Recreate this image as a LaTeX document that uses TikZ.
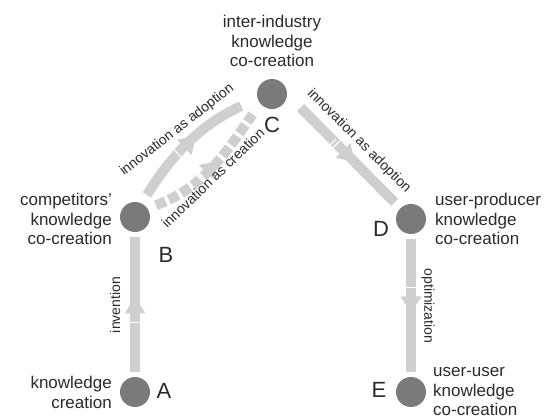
\documentclass[tikz,border=0pt]{standalone}
\usepackage{fontspec}
\setmainfont{Liberation Sans}
\usetikzlibrary{decorations.markings}
\definecolor{band}{HTML}{CFCFCF}
\definecolor{dot}{HTML}{7A7A7A}
\definecolor{txt}{HTML}{2A2A2A}
\tikzset{
  dotnode/.style={circle, fill=dot, minimum size=30pt, inner sep=0pt},
  flow/.style={draw=band, line width=10pt, postaction={decorate},
    decoration={markings, mark=at position #1 with {
      \fill[band] (-9pt,10.5pt) -- (7pt,0pt) -- (-9pt,-10.5pt) -- cycle;
      \draw[white, solid, line width=1.1pt] (-18pt,5pt) -- (-18pt,-5pt) (-22pt,5pt) -- (-22pt,-5pt);}}},
  flow/.default=0.5,
  nodetext/.style={font=\fontsize{17}{19.5}\selectfont, text=txt, inner sep=0pt},
  edgetext/.style={font=\fontsize{14}{16}\selectfont, text=txt, inner sep=0pt},
  letter/.style={font=\fontsize{22}{24}\selectfont, text=txt, inner sep=0pt},
}
\begin{document}
\begin{tikzpicture}[x=1pt,y=1pt]
\useasboundingbox (0,0) rectangle (548,419);
% dots
\node[dotnode] (C) at (272,325) {};
\node[dotnode] (B) at (135,202) {};
\node[dotnode] (A) at (135,27) {};
\node[dotnode] (D) at (411,200) {};
\node[dotnode] (E) at (411,27) {};
% flows
\draw[flow, shorten <=5pt, shorten >=5pt] (A) -- (B);
\draw[flow, shorten <=5pt, shorten >=5pt] (D) -- (E);
\draw[flow=0.55, shorten <=19pt, shorten >=8pt] (C.east) -- (D);
\draw[flow, shorten <=10pt, shorten >=18pt] (B.64) to[out=58,in=205] (C.197);
\draw[flow, dash pattern=on 10.5pt off 3.5pt, shorten <=9pt, shorten >=13pt] (B.35) to[out=20,in=235] (C.219);
% letters
\node[letter] (Cx) at (272,294) {C};
\node[letter] (Bx) at (166,164) {B};
\node[letter] (Ax) at (164,28) {A};
\node[letter] (Dx) at (381,190) {D};
\node[letter] (Ex) at (379,29) {E};
% node texts
\node[nodetext, align=center] (Ct) at (272,378) {inter-industry\\knowledge\\co-creation};
\node[nodetext, align=right, anchor=east] (Bt) at (112,200) {competitors'\\knowledge\\co-creation};
\node[nodetext, align=right, anchor=east] (At) at (112,26.5) {knowledge\\creation};
\node[nodetext, align=left, anchor=west] (Dt) at (435,200) {user-producer\\knowledge\\co-creation};
\node[nodetext, align=left, anchor=west] (Et) at (433,27) {user-user\\knowledge\\co-creation};
% edge labels
\node[edgetext, rotate=90] (l1) at (115,114) {invention};
\node[edgetext, rotate=-90] (l2) at (428,113) {optimization};
\node[edgetext, rotate=-45] (l3) at (359,278) {innovation as adoption};
\node[edgetext, rotate=38] (l4) at (177,289) {innovation as adoption};
\node[edgetext, rotate=44] (l5) at (213,241) {innovation as creation};
\end{tikzpicture}
\end{document}
